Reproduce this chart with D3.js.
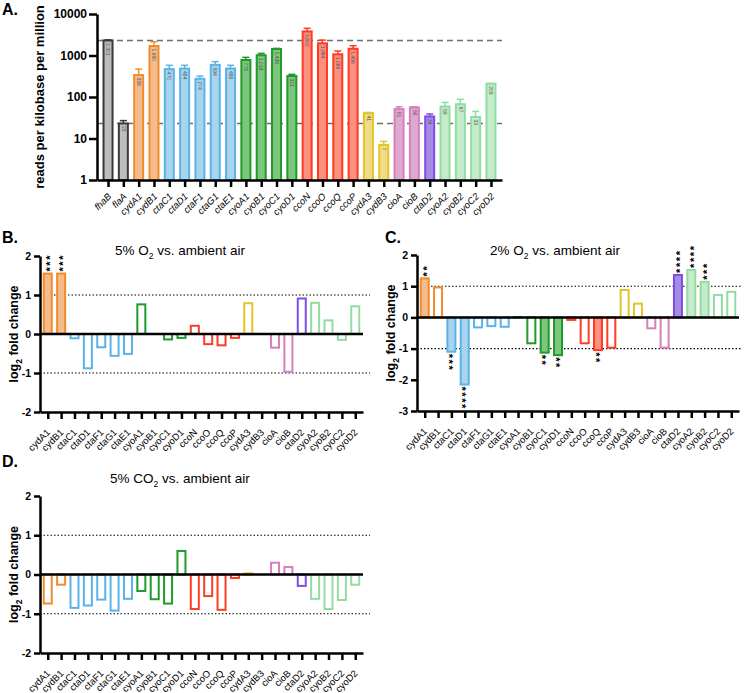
<!DOCTYPE html>
<html><head><meta charset="utf-8">
<script src="https://cdn.jsdelivr.net/npm/d3@7"></script>
<style>
body{margin:0;background:#fff}
svg{display:block}
text{font-family:"Liberation Sans",Arial,Helvetica,sans-serif}
</style>
</head><body>
<svg id="chart" width="746" height="693"></svg>
<script>
// ---------------- DATA ----------------
const genesA = ["fhaB","flaA","cydA1","cydB1","ctaC1","ctaD1","ctaF1","ctaG1","ctaE1","cyoA1","cyoB1","cyoC1","cyoD1","ccoN","ccoO","ccoQ","ccoP","cydA3","cydB3","cioA","cioB","ctaD2","cyoA2","cyoB2","cyoC2","cyoD2"];
const groupsA = ["gray","gray","orange","orange","blue","blue","blue","blue","blue","green","green","green","green","red","red","red","red","yellow","yellow","pink","pink","purple","lgreen","lgreen","lgreen","lgreen"];
const rpkm = [2301,23,338,1690,470,484,274,594,485,778,1018,1436,321,3800,1964,1069,1456,41,7,51,56,34,59,67,33,209];
const rpkmErrTop = [2380,27,470,2150,580,580,320,710,580,904,1125,1480,352,4520,2350,1283,1720,42.5,8.5,58,58,39,74,88,45,212];
const refLines = [2301,23];
const yTicksA = [1,10,100,1000,10000];

const genesFC = ["cydA1","cydB1","ctaC1","ctaD1","ctaF1","ctaG1","ctaE1","cyoA1","cyoB1","cyoC1","cyoD1","ccoN","ccoO","ccoQ","ccoP","cydA3","cydB3","cioA","cioB","ctaD2","cyoA2","cyoB2","cyoC2","cyoD2"];
const groupsFC = ["orange","orange","blue","blue","blue","blue","blue","green","green","green","green","red","red","red","red","yellow","yellow","pink","pink","purple","lgreen","lgreen","lgreen","lgreen"];
const fc5O2  = [1.55,1.55,-0.11,-0.88,-0.34,-0.56,-0.51,0.76,0,-0.14,-0.10,0.21,-0.26,-0.29,-0.10,0.79,0,-0.35,-0.97,0.91,0.80,0.35,-0.15,0.71];
const sig5O2 = [3,3,0,0,0,0,0,0,0,0,0,0,0,0,0,0,0,0,0,0,0,0,0,0];
const fc2O2  = [1.25,0.96,-1.10,-2.15,-0.32,-0.28,-0.30,0.01,-0.83,-1.13,-1.21,-0.08,-0.83,-1.05,-0.97,0.88,0.44,-0.35,-0.97,1.36,1.52,1.14,0.72,0.82];
const sig2O2 = [2,0,3,4,0,0,0,0,0,2,2,0,0,2,0,0,0,0,0,4,4,3,0,0];
const fc5CO2 = [-0.74,-0.26,-0.85,-0.79,-0.64,-0.92,-0.62,-0.42,-0.63,-0.74,0.60,-0.88,-0.55,-0.90,-0.09,0.03,0,0.30,0.19,-0.29,-0.62,-0.88,-0.65,-0.26];
const sig5CO2 = [0,0,0,0,0,0,0,0,0,0,0,0,0,0,0,0,0,0,0,0,0,0,0,0];

const palette = {
  gray:   {stroke:"#3a3a3a", fill:"#bdbdbd"},
  orange: {stroke:"#f28a2e", fill:"#f4bb8b"},
  blue:   {stroke:"#5ab3e6", fill:"#a9d4ef"},
  green:  {stroke:"#1f9a2b", fill:"#7cc67d"},
  red:    {stroke:"#ff3b24", fill:"#fb8f80"},
  yellow: {stroke:"#e3c52a", fill:"#eedc86"},
  pink:   {stroke:"#d67fba", fill:"#dda9cf"},
  purple: {stroke:"#7d4ee6", fill:"#a68be3"},
  lgreen: {stroke:"#93dca1", fill:"#c4ecca"}
};

// ---------------- DRAW ----------------
const svg = d3.select("#chart");
const intFmt = d => String(d);

function styleAxis(g, fs){
  g.select(".domain").attr("stroke","#000").attr("stroke-width",2.5);
  g.selectAll(".tick line").attr("stroke","#000").attr("stroke-width",2.5);
  g.selectAll(".tick text").attr("fill","#000").style("font-size",fs+"px").style("font-weight","bold").style("font-family","'Liberation Sans',Arial,sans-serif");
}

// ===== Panel A =====
(function(){
  const x0 = 97, x1 = 502, yTop = 14, yBot = 180;
  const x = d3.scalePoint().domain(genesA).range([x0,x1]).padding(0.72);
  const y = d3.scaleLog().domain([1,10000]).range([yBot,yTop]);
  const g = svg.append("g");

  g.selectAll("line.ref").data(refLines).join("line").attr("class","ref")
    .attr("x1",x0).attr("x2",x1).attr("y1",d=>y(d)).attr("y2",d=>y(d))
    .attr("stroke","#6e6e6e").attr("stroke-width",1.5).attr("stroke-dasharray","6,4");

  const bw = 9;
  const data = genesA.map((gname,i)=>({g:gname,v:rpkm[i],e:rpkmErrTop[i],c:palette[groupsA[i]]}));
  g.selectAll("line.err").data(data).join("line").attr("class","err")
    .attr("x1",d=>x(d.g)).attr("x2",d=>x(d.g)).attr("y1",d=>y(d.v)).attr("y2",d=>y(d.e))
    .attr("stroke",d=>d.c.stroke).attr("stroke-width",1.5);
  g.selectAll("line.cap").data(data).join("line").attr("class","cap")
    .attr("x1",d=>x(d.g)-3.5).attr("x2",d=>x(d.g)+3.5).attr("y1",d=>y(d.e)).attr("y2",d=>y(d.e))
    .attr("stroke",d=>d.c.stroke).attr("stroke-width",1.5);
  g.selectAll("rect").data(data).join("rect")
    .attr("x",d=>x(d.g)-bw/2).attr("width",bw)
    .attr("y",d=>y(d.v)).attr("height",d=>y(1)-y(d.v))
    .attr("fill",d=>d.c.fill).attr("stroke",d=>d.c.stroke).attr("stroke-width",2);
  g.selectAll("text.val").data(data).join("text").attr("class","val")
    .attr("transform",d=>`translate(${x(d.g)-1.8},${y(d.v)+2.5}) rotate(90)`)
    .attr("text-anchor","start").attr("fill","#555").style("font-size","5px")
    .text(d=>d3.format(",")(d.v));

  const ya = g.append("g").attr("transform",`translate(${x0},0)`)
    .call(d3.axisLeft(y).tickValues(yTicksA).tickFormat(intFmt).tickSize(8).tickPadding(2).tickSizeOuter(0));
  styleAxis(ya,12);
  const xa = g.append("g").attr("transform",`translate(0,${yBot})`)
    .call(d3.axisBottom(x).tickSize(7).tickSizeOuter(0).tickFormat(""));
  styleAxis(xa,9);
  g.selectAll("text.xl").data(genesA).join("text").attr("class","xl")
    .attr("transform",d=>`translate(${x(d)+4},${yBot+17}) rotate(-45)`)
    .attr("text-anchor","end").style("font-size","9.5px").style("font-style","italic").attr("fill","#000")
    .text(d=>d);

  g.append("text").attr("transform",`translate(44,${(yTop+yBot)/2}) rotate(-90)`)
    .attr("text-anchor","middle").style("font-size","13px").style("font-weight","bold").text("reads per kilobase per million");
  g.append("text").attr("x",2).attr("y",15).style("font-size","16px").style("font-weight","bold").text("A.");
})();

// ===== Fold-change panels =====
function fcPanel(opts){
  const {xAxis, xEnd, dotEnd, yTop, yBot, domain, values, sig, title, titleX, titleY, letter, letterX, letterY, labelX} = opts;
  const g = svg.append("g");
  const x = d3.scalePoint().domain(genesFC).range([xAxis,xEnd]).padding(0.58);
  const y = d3.scaleLinear().domain(domain).range([yBot,yTop]);
  const ticks = d3.range(domain[0],domain[1]+1);

  g.selectAll("line.dot").data([1,-1]).join("line").attr("class","dot")
    .attr("x1",xAxis).attr("x2",dotEnd).attr("y1",d=>y(d)).attr("y2",d=>y(d))
    .attr("stroke","#000").attr("stroke-width",1.1).attr("stroke-dasharray","1.5,2");

  const bw = 8;
  const data = genesFC.map((gname,i)=>({g:gname,v:values[i],s:sig[i],c:palette[groupsFC[i]]}));
  g.selectAll("rect").data(data).join("rect")
    .attr("x",d=>x(d.g)-bw/2).attr("width",bw)
    .attr("y",d=>y(Math.max(0,d.v))).attr("height",d=>Math.abs(y(d.v)-y(0)))
    .attr("fill",d=>d.s>0?d.c.fill:"#fff").attr("stroke",d=>d.c.stroke).attr("stroke-width",2);

  g.append("line").attr("x1",xAxis).attr("x2",xEnd).attr("y1",y(0)).attr("y2",y(0))
    .attr("stroke","#000").attr("stroke-width",2.5);

  // significance stars: one vertical text per bar
  const fs = 11;
  g.selectAll("text.star").data(data.filter(d=>d.s>0)).join("text").attr("class","star")
    .attr("transform",d=> d.v>=0
      ? `translate(${x(d.g)+0.575*fs},${y(d.v)-2}) rotate(-90)`
      : `translate(${x(d.g)-0.575*fs},${y(d.v)+2}) rotate(90)`)
    .attr("text-anchor","start").style("font-size",fs+"px").style("font-weight","bold")
    .style("letter-spacing","1.6px").text(d=>"*".repeat(d.s));

  const ya = g.append("g").attr("transform",`translate(${xAxis},0)`)
    .call(d3.axisLeft(y).tickValues(ticks).tickFormat(intFmt).tickSize(6).tickPadding(3).tickSizeOuter(0));
  styleAxis(ya,10.5);
  const xa = g.append("g").attr("transform",`translate(0,${yBot})`)
    .call(d3.axisBottom(x).tickSize(7).tickSizeOuter(0).tickFormat(""));
  styleAxis(xa,9);
  g.selectAll("text.xl").data(genesFC).join("text").attr("class","xl")
    .attr("transform",d=>`translate(${x(d)+3},${yBot+21}) rotate(-45)`)
    .attr("text-anchor","end").style("font-size","9.5px").attr("fill","#000").text(d=>d);

  const yl = g.append("text").attr("transform",`translate(${labelX},${(yTop+yBot)/2}) rotate(-90)`)
    .attr("text-anchor","middle").style("font-size","12.5px").style("font-weight","bold");
  yl.append("tspan").text("log");
  yl.append("tspan").attr("dy",4).style("font-size","8.5px").text("2");
  yl.append("tspan").attr("dy",-4).text(" fold change");

  const t = g.append("text").attr("x",titleX).attr("y",titleY).style("font-size","13.5px");
  t.append("tspan").text(title[0]);
  t.append("tspan").attr("dy",4).style("font-size","8.5px").text("2");
  t.append("tspan").attr("dy",-4).text(title[1]);

  g.append("text").attr("x",letterX).attr("y",letterY).style("font-size","16px").style("font-weight","bold").text(letter);
}

fcPanel({xAxis:40, xEnd:363, dotEnd:370, yTop:256, yBot:412, domain:[-2,2], values:fc5O2, sig:sig5O2,
  title:["5% O"," vs. ambient air"], titleX:115, titleY:255, letter:"B.", letterX:2, letterY:243, labelX:18});
fcPanel({xAxis:417, xEnd:739, dotEnd:742, yTop:255, yBot:411, domain:[-3,2], values:fc2O2, sig:sig2O2,
  title:["2% O"," vs. ambient air"], titleX:490, titleY:255, letter:"C.", letterX:385, letterY:243, labelX:395});
fcPanel({xAxis:40, xEnd:363, dotEnd:370, yTop:496, yBot:653, domain:[-2,2], values:fc5CO2, sig:sig5CO2,
  title:["5% CO"," vs. ambient air"], titleX:110, titleY:483, letter:"D.", letterX:2, letterY:467, labelX:18});
</script>
</body></html>
